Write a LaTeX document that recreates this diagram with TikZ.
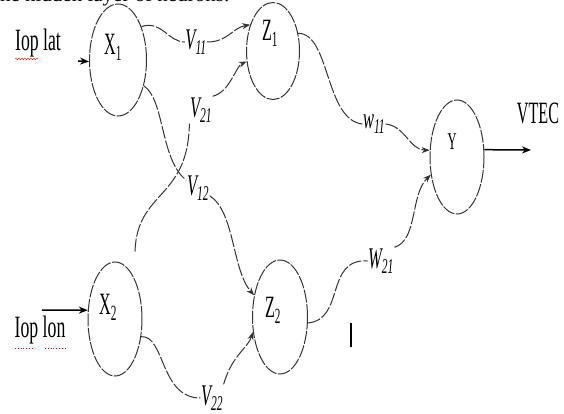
\documentclass[tikz,border=0pt]{standalone}
\usepackage{fontspec}
\setmainfont{Liberation Serif}
\usetikzlibrary{shapes.geometric,arrows.meta,decorations.pathmorphing}

\begin{document}
\begin{tikzpicture}[x=1pt,y=-1pt,
    neuron/.style={ellipse,draw=black!80,line width=1pt,dash pattern=on 13pt off 1.5pt,
      inner sep=0pt,minimum width=54pt,minimum height=114pt},
    txt/.style={font=\fontsize{31}{31}\selectfont,xscale=0.52,inner sep=1pt},
    wt/.style={font=\fontsize{30}{30}\selectfont\itshape,xscale=0.55,inner sep=1pt},
    plain/.style={draw=black!80,line width=1pt,dash pattern=on 13pt off 2pt},
    link/.style={plain,-{Stealth[length=8pt,width=6pt]}},
    feed/.style={draw=black,line width=1.5pt,-{Stealth[length=9pt,width=7pt]}}]
  \useasboundingbox (0,0) rectangle (564,414);

  \node[anchor=base west,font=\fontsize{21}{21}\selectfont,inner sep=0pt] (head) at (-6,2) {the hidden layer of neurons:};

  % neurons
  \node[neuron,minimum width=57pt,minimum height=112pt] (X1) at (118,60) {};
  \node[neuron,minimum width=53pt,minimum height=97pt] (Z1) at (273,51) {};
  \node[neuron] (Y) at (457,157) {};
  \node[neuron] (X2) at (115,319) {};
  \node[neuron,minimum width=55pt] (Z2) at (280,317) {};
  \node[txt] (X1t) at (113,47) {X\textsubscript{1}};
  \node[txt] (Z1t) at (270,33) {Z\textsubscript{1}};
  \node[txt,font=\fontsize{24}{24}\selectfont] (Yt) at (452,142) {Y};
  \node[txt] (X2t) at (108,307) {X\textsubscript{2}};
  \node[txt] (Z2t) at (273,310) {Z\textsubscript{2}};

  % inputs and output
  \node[txt,xscale=1.1] (lat) at (38,43) {Iop lat};
  \node[txt,xscale=1.1] (lon) at (40,330) {Iop lon};
  \node[txt] (vtec) at (538,113) {VTEC};
  \coordinate (latin) at (78,61);
  \coordinate (lonin) at (42,310);
  \coordinate (out) at (531,150);
  \draw[feed] (latin) -- (X1.183);
  \draw[feed] (lonin) -- (X2.162);
  \draw[feed] (Y.15) -- (out);

  % weights
  \node[wt] (V11) at (196,42) {V\textsubscript{11}};
  \node[wt] (V21) at (201,110) {V\textsubscript{21}};
  \node[wt] (V12) at (198,188) {V\textsubscript{12}};
  \node[wt] (V22) at (212,398) {V\textsubscript{22}};
  \node[wt] (w11) at (374,124) {w\textsubscript{11}};
  \node[wt] (W21) at (381,261) {W\textsubscript{21}};

  \draw[plain] (X1.55) .. controls (162,20) and (168,42) .. (V11.west);
  \draw[link] (V11.east) .. controls (228,42) and (232,28) .. (Z1.131);
  \draw[plain] (X1.-45) .. controls (165,100) and (160,160) .. (V12.160);
  \draw[link] (V12.-20) .. controls (235,212) and (232,270) .. (Z2.140);
  \draw[plain] ([shift={(20,-10)}]X2.north) .. controls (137,190) and (188,200) .. (V21.south west);
  \draw[link] (V21.north east) .. controls (230,92) and (236,66) .. (Z1.202);
  \draw[plain] (X2.-34) .. controls (165,335) and (160,398) .. (V22.west);
  \draw[link] (V22.north east) .. controls (232,355) and (248,348) .. (Z2.209);
  \draw[plain] (Z1.35) .. controls (330,33) and (325,120) .. (w11.west);
  \draw[link] (w11.east) .. controls (405,126) and (410,150) .. (Y.166);
  \draw[plain] (Z2.-12) .. controls (345,320) and (325,258) .. (W21.west);
  \draw[link] (W21.north east) .. controls (418,240) and (410,195) .. (Y.214);

  % marks
  \draw[line width=1.2pt] (351,323) -- (351,347);
  \draw[red,decorate,decoration={snake,amplitude=0.8pt,segment length=3pt}] (15,59) -- (38,59);
  \draw[red,dotted,line width=0.8pt] (15,348) -- (34,348) (45,348) -- (66,348);
\end{tikzpicture}
\end{document}
